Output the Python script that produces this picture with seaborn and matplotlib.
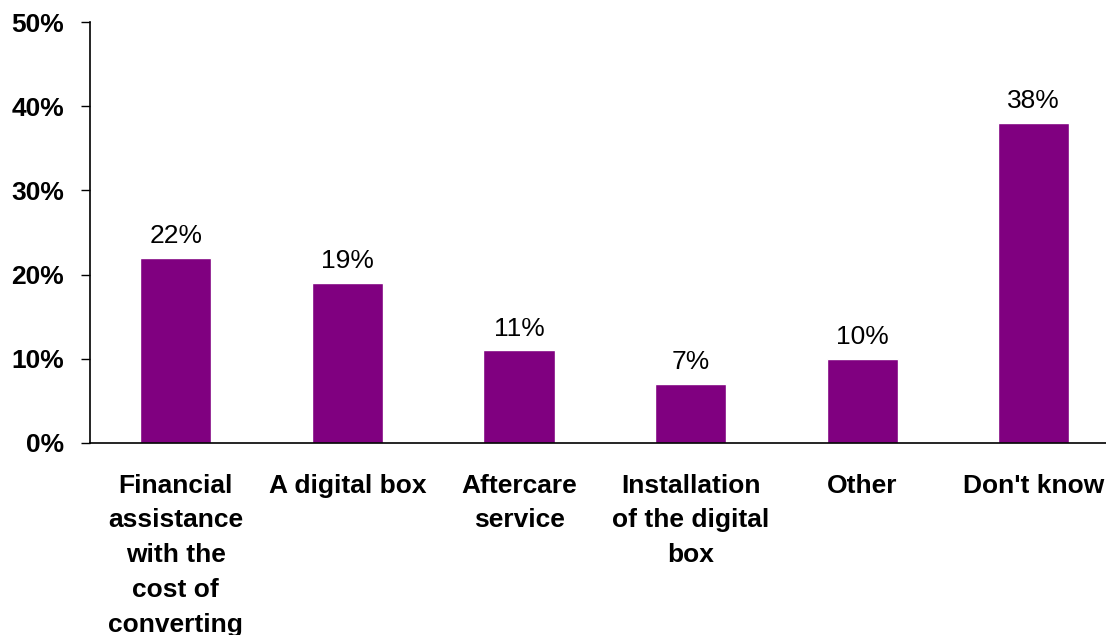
import matplotlib
matplotlib.use('Agg')
import matplotlib.pyplot as plt
import seaborn as sns
import pandas as pd

categories = ['Financial\nassistance\nwith the\ncost of\nconverting', 'A digital box',
              'Aftercare\nservice', 'Installation\nof the digital\nbox', 'Other', "Don't know"]
values = [22, 19, 11, 7, 10, 38]
y_ticks = [0, 10, 20, 30, 40, 50]
y_labels = ['0%', '10%', '20%', '30%', '40%', '50%']

if __name__ == '__main__':
  sns.set_style('white')
  plt.rcParams['font.family'] = ['Liberation Sans', 'DejaVu Sans']
  plt.rcParams['text.color'] = 'black'
  plt.rcParams['xtick.color'] = 'black'
  plt.rcParams['ytick.color'] = 'black'

  data = pd.DataFrame({'category': categories, 'value': values})

  f = plt.figure(figsize=[11.06, 6.35], dpi=100)
  ax = f.add_axes([90 / 1106, 192 / 635, 1029.6 / 1106, 421 / 635])
  sns.barplot(data=data, x='category', y='value', color='#800080', saturation=1,
              width=0.414, ax=ax)
  ax.set_xlim(-0.5, 5.5)
  ax.set_ylim(0, 50)
  ax.set_yticks(y_ticks)
  ax.set_yticklabels(y_labels, fontsize=19, fontweight='bold')
  ax.set_xticklabels(categories, fontsize=19, fontweight='bold', linespacing=1.57)
  ax.tick_params(axis='y', direction='out', length=6.5, width=1, color='black', pad=12, left=True)
  ax.tick_params(axis='x', length=0, pad=22)
  ax.set_xlabel('')
  ax.set_ylabel('')
  for s in ['top', 'right']:
    ax.spines[s].set_visible(False)
  for s in ['left', 'bottom']:
    ax.spines[s].set_color('black')
    ax.spines[s].set_linewidth(1.2)

  ax.bar_label(ax.containers[0], labels=[f'{v}%' for v in values], fontsize=19, padding=7,
               color='black')
  plt.savefig('out.png', dpi=100)
